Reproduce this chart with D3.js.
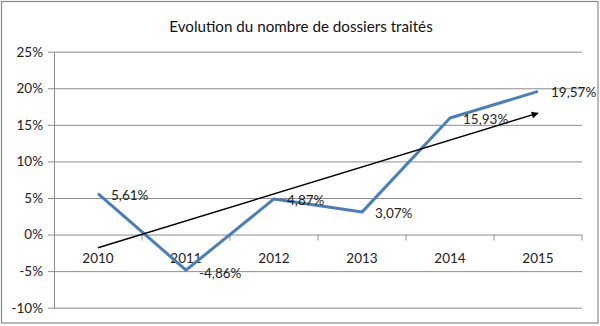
<!DOCTYPE html>
<html>
<head>
<meta charset="utf-8">
<script src="https://cdn.jsdelivr.net/npm/d3@7"></script>
<style>
  html, body { margin: 0; padding: 0; background: #fff; }
  svg { display: block; font-family: Lato, "Open Sans", sans-serif; }
</style>
</head>
<body>
<svg id="chart" width="600" height="326"></svg>
<script>
// Yearly change in the number of processed files
const years = ["2010", "2011", "2012", "2013", "2014", "2015"];
const values = [5.61, -4.86, 4.87, 3.07, 15.93, 19.57];
const valueLabels = ["5,61%", "-4,86%", "4,87%", "3,07%", "15,93%", "19,57%"];
const yTicks = [-10, -5, 0, 5, 10, 15, 20, 25];
// Hand-drawn trend arrow, start and end in data units
const trendYears = ["2010", "2015"];
const trendValues = [-1.8, 16.6];
const title = "Evolution du nombre de dossiers traités";

const svg = d3.select("#chart");
const plotLeft = 54, plotRight = 582, plotTop = 51.7, plotBottom = 307.7;

const x = d3.scaleBand().domain(years).range([plotLeft, plotRight]);
const xc = d => x(d) + x.bandwidth() / 2;
const y = d3.scaleLinear().domain([-10, 25]).range([plotBottom, plotTop]);

// outer chart frame
svg.append("rect")
  .attr("x", 1.5).attr("y", 1.5).attr("width", 596.5).attr("height", 321.5)
  .attr("fill", "#fff").attr("stroke", "#8a8a8a").attr("stroke-width", 1.2);

// title
svg.append("text")
  .attr("x", 301).attr("y", 32)
  .attr("text-anchor", "middle")
  .attr("font-size", 15.2).attr("fill", "#111")
  .text(title);

// value axis with gridlines
const yAxis = svg.append("g")
  .attr("transform", `translate(${plotLeft},0)`)
  .call(d3.axisLeft(y).tickValues(yTicks).tickSize(-(plotRight - plotLeft)).tickSizeOuter(0)
    .tickFormat(d => d + "%").tickPadding(12));
yAxis.select(".domain").attr("stroke", "#8c8c8c");
yAxis.selectAll(".tick line").attr("stroke", "#8c8c8c").attr("x1", -6);
yAxis.selectAll(".tick text")
  .attr("font-size", 13.5).attr("fill", "#222").attr("font-family", "Lato, sans-serif")
  .attr("x", -11);

// category axis on the zero line
const xAxis = svg.append("g")
  .attr("transform", `translate(0,${y(0)})`)
  .call(d3.axisBottom(x).tickSize(0).tickPadding(19));
xAxis.select(".domain").remove();
xAxis.selectAll(".tick text")
  .attr("font-size", 13.5).attr("fill", "#222").attr("font-family", "Lato, sans-serif");
// tick marks between categories
svg.append("g").selectAll("line")
  .data(years)
  .join("line")
  .attr("x1", (d, i) => plotLeft + x.step() * (i + 1))
  .attr("x2", (d, i) => plotLeft + x.step() * (i + 1))
  .attr("y1", y(0)).attr("y2", y(0) + 6)
  .attr("stroke", "#8c8c8c");

// series line
const pts = years.map((yr, i) => ({ yr, v: values[i], label: valueLabels[i] }));
svg.append("path")
  .datum(pts)
  .attr("fill", "none")
  .attr("stroke", "#4a7ebb")
  .attr("stroke-width", 3)
  .attr("stroke-linejoin", "round")
  .attr("d", d3.line().x(d => xc(d.yr)).y(d => y(d.v)));

// trend arrow
svg.append("defs").append("marker")
  .attr("id", "arrowhead")
  .attr("viewBox", "0 0 10 10")
  .attr("refX", 9).attr("refY", 5)
  .attr("markerWidth", 8).attr("markerHeight", 7)
  .attr("markerUnits", "userSpaceOnUse")
  .attr("orient", "auto")
  .append("path").attr("d", "M0,0 L10,5 L0,10 Z").attr("fill", "#000");
svg.append("line")
  .attr("x1", xc(trendYears[0])).attr("y1", y(trendValues[0]))
  .attr("x2", xc(trendYears[1])).attr("y2", y(trendValues[1]))
  .attr("stroke", "#000").attr("stroke-width", 1.4)
  .attr("marker-end", "url(#arrowhead)");

// data labels to the right of each point
svg.append("g").selectAll("text")
  .data(pts)
  .join("text")
  .attr("x", d => xc(d.yr) + 13)
  .attr("y", d => y(d.v) + (d.v < 0 ? 3 : 1))
  .attr("dominant-baseline", "central")
  .attr("font-size", 13.5).attr("fill", "#222")
  .text(d => d.label);
</script>
</body>
</html>
